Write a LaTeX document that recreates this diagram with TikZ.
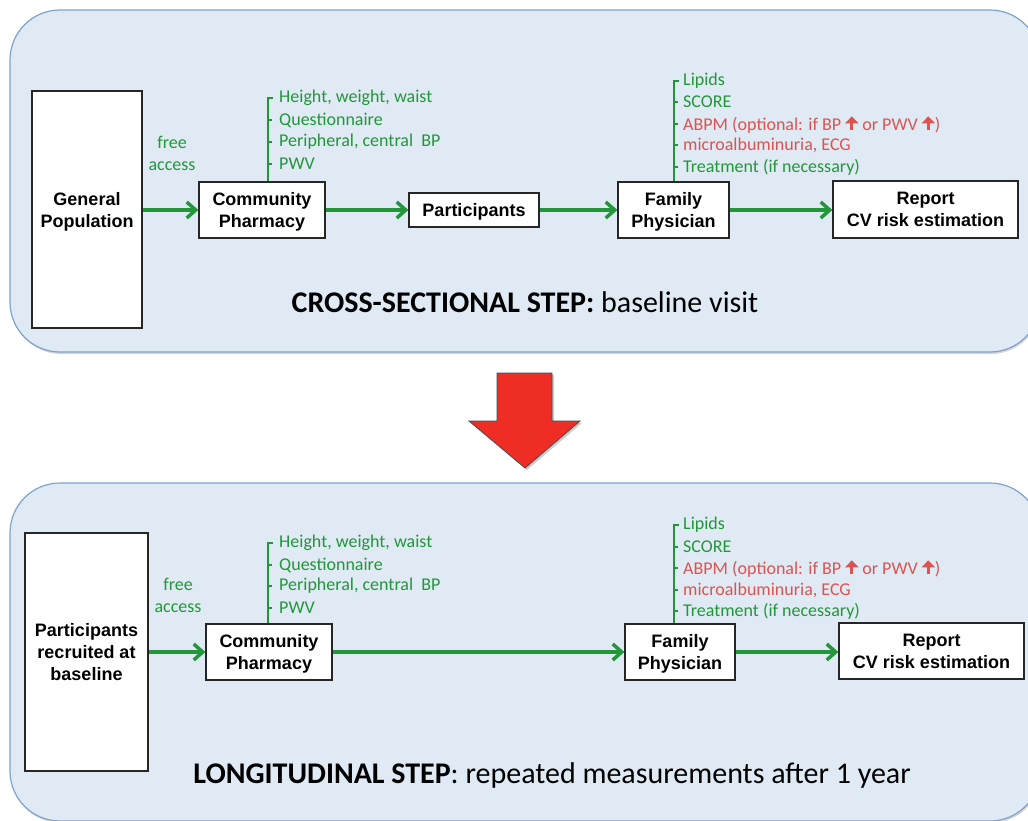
\documentclass[tikz,border=0pt]{standalone}
\usepackage{fontspec}
\setmainfont{Carlito}
\newfontfamily\boxfont{Liberation Sans}
\usetikzlibrary{arrows.meta}
\definecolor{panelfill}{HTML}{DFEAF5}
\definecolor{panelline}{HTML}{7FA3CC}
\definecolor{grn}{HTML}{23963A}
\definecolor{redtxt}{HTML}{DC5450}
\definecolor{bigred}{HTML}{EE2E24}
\newcommand{\uparr}{\tikz[x=1pt,y=1pt,baseline=-1pt]\draw[redtxt,line width=3pt,-{Triangle[length=7pt,width=13pt]}] (0,-1) -- (0,13);}
\begin{document}
\begin{tikzpicture}[x=1pt,y=-1pt,
 panel/.style={fill=panelfill, draw=panelline, line width=1.2pt, rounded corners=50pt},
 panelshadow/.style={fill=black!45, opacity=0.35, rounded corners=50pt},
 boxn/.style={draw=black!85, line width=1.3pt, fill=white, font=\boxfont\bfseries\fontsize{18}{22}\selectfont, align=center, inner sep=0pt, text depth=0pt},
 flow/.style={draw=grn, line width=3.5pt, -{Straight Barb[length=9pt,width=16pt]}},
 brk/.style={draw=grn, line width=1.5pt},
 item/.style={anchor=west, inner sep=0pt, font=\fontsize{18}{22}\selectfont, text=grn},
 ritem/.style={item, text=redtxt},
 lbl/.style={font=\fontsize{18}{22}\selectfont, text=grn, align=center, inner sep=0pt},
 titletext/.style={font=\fontsize{30}{36}\selectfont, inner sep=0pt}
]
\useasboundingbox (0,0) rectangle (1028,820);
\clip (0,0) rectangle (1028,820);
\fill[white] (0,0) rectangle (1028,820);

% ---------- panels ----------
\path[panelshadow] (11,12) rectangle (1041,354);
\path[panel] (10,10) rectangle (1040,352);
\path[panelshadow] (11,485) rectangle (1041,823);
\path[panel] (10,483) rectangle (1040,821);

% ---------- big red arrow ----------
\fill[black!40, opacity=0.5] (499,375) -- (554,375) -- (554,423) -- (582,423) -- (527,470) -- (471,423) -- (499,423) -- cycle;
\draw[fill=bigred, draw=black!70, line width=0.8pt] (497,373) -- (552,373) -- (552,421) -- (580,421) -- (525,468) -- (469,421) -- (497,421) -- cycle;

% ---------- panel 1 ----------
\node[boxn, minimum width=110pt, minimum height=237pt] (gp) at (87,209.5) {General\\Population};
\node[boxn, minimum width=126pt, minimum height=56pt] (cpa) at (262,210) {Community\\Pharmacy};
\node[boxn, minimum width=130pt, minimum height=34pt] (part) at (474,210) {Participants};
\node[boxn, minimum width=111pt, minimum height=56pt] (fpa) at (673.5,210) {Family\\Physician};
\node[boxn, minimum width=185pt, minimum height=57pt] (repa) at (925.5,209.5) {Report\\CV risk estimation};

\node[lbl] (fa1) at (172,153) {free\\access};

\draw[flow] (gp.east |- cpa.west) -- (cpa.west);
\draw[flow] (cpa.east) -- (part.west);
\draw[flow] (part.east) -- (fpa.west);
\draw[flow] (fpa.east) -- (repa.west |- fpa.east);

% CP items
\node[item] (a1) at (279,98) {Height, weight, waist};
\node[item] (a2) at (279,120) {Questionnaire};
\node[item] (a3) at (279,142) {Peripheral, central\ \ BP};
\node[item] (a4) at (279,164) {PWV};
\coordinate (ab) at (268,98);
\draw[brk] ([xshift=5pt]ab) -- (ab) -- (ab |- cpa.north);
\foreach \n in {a2,a3,a4} \draw[brk] ([xshift=-11pt]\n.west) -- ++(4,0);

% FP items
\node[item] (b1) at (683,81) {Lipids};
\node[item] (b2) at (683,102) {SCORE};
\node[ritem] (b3) at (683,124) {ABPM (optional: if BP \uparr\ or PWV \uparr)};
\node[ritem] (b4) at (683,145) {microalbuminuria, ECG};
\node[item] (b5) at (683,167) {Treatment (if necessary)};
\coordinate (bb) at (674,81);
\draw[brk] ([xshift=5pt]bb) -- (bb) -- (bb |- fpa.north);
\foreach \n in {b2,b3,b4,b5} \draw[brk] ([xshift=-9pt]\n.west) -- ++(4,0);

\node[titletext] (t1) at (525,302) {\textbf{CROSS-SECTIONAL STEP:} baseline visit};

% ---------- panel 2 ----------
\node[boxn, minimum width=123pt, minimum height=238pt] (pr) at (86.5,652) {Participants\\recruited at\\baseline};
\node[boxn, minimum width=126pt, minimum height=56pt] (cpb) at (269,652) {Community\\Pharmacy};
\node[boxn, minimum width=110pt, minimum height=56pt] (fpb) at (680,652) {Family\\Physician};
\node[boxn, minimum width=185pt, minimum height=56pt] (repb) at (931.5,651) {Report\\CV risk estimation};

\node[lbl] (fa2) at (178,595) {free\\access};

\draw[flow] (pr.east |- cpb.west) -- (cpb.west);
\draw[flow] (cpb.east) -- (fpb.west);
\draw[flow] (fpb.east) -- (repb.west |- fpb.east);

% CP items
\node[item] (c1) at (279,543) {Height, weight, waist};
\node[item] (c2) at (279,565) {Questionnaire};
\node[item] (c3) at (279,586) {Peripheral, central\ \ BP};
\node[item] (c4) at (279,608) {PWV};
\coordinate (cb) at (268,543);
\draw[brk] ([xshift=5pt]cb) -- (cb) -- (cb |- cpb.north);
\foreach \n in {c2,c3,c4} \draw[brk] ([xshift=-11pt]\n.west) -- ++(4,0);

% FP items
\node[item] (d1) at (683,525) {Lipids};
\node[item] (d2) at (683,547) {SCORE};
\node[ritem] (d3) at (683,568) {ABPM (optional: if BP \uparr\ or PWV \uparr)};
\node[ritem] (d4) at (683,590) {microalbuminuria, ECG};
\node[item] (d5) at (683,611) {Treatment (if necessary)};
\coordinate (db) at (674,525);
\draw[brk] ([xshift=5pt]db) -- (db) -- (db |- fpb.north);
\foreach \n in {d2,d3,d4,d5} \draw[brk] ([xshift=-9pt]\n.west) -- ++(4,0);

\node[titletext] (t2) at (552,775) {\textbf{LONGITUDINAL STEP}: repeated measurements after 1 year};
\end{tikzpicture}
\end{document}
